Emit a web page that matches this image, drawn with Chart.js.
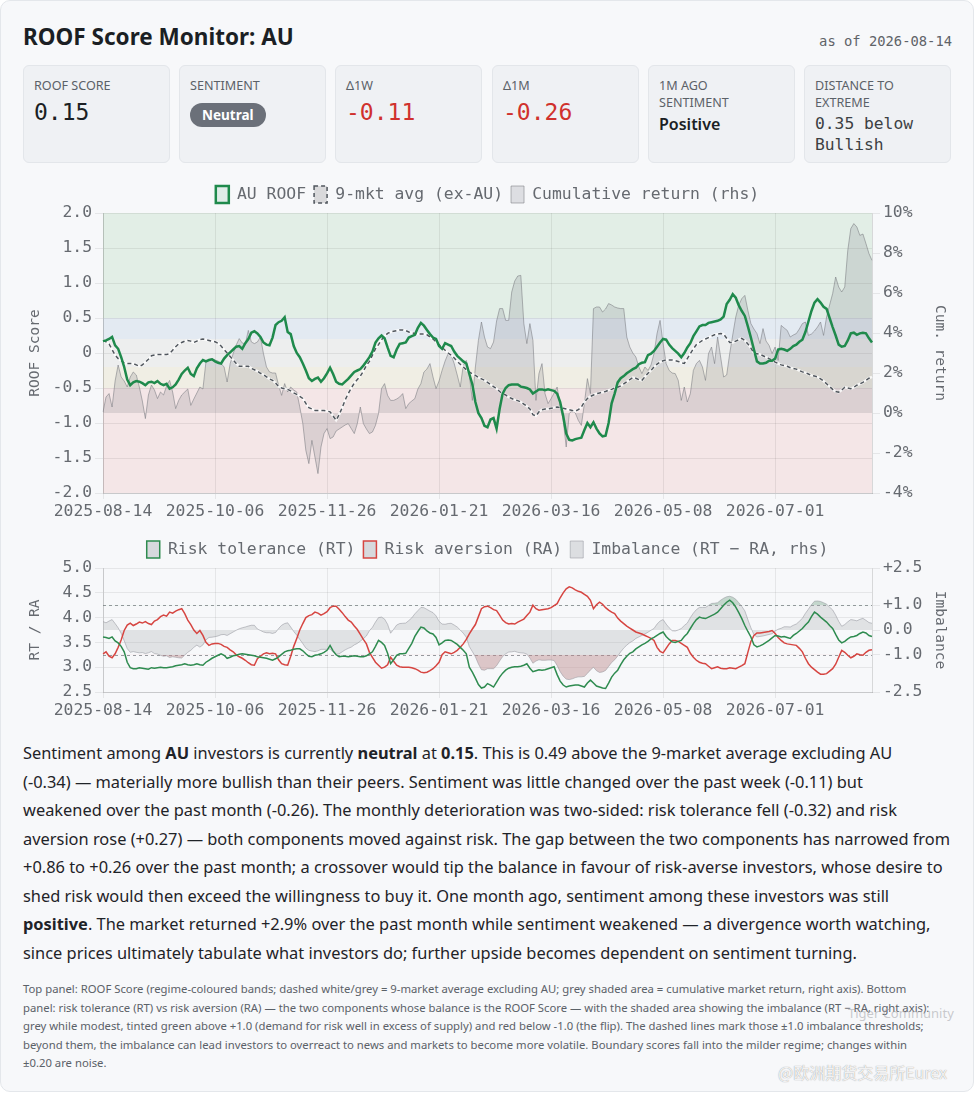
<!DOCTYPE html>
<html lang="en">
<head>
<meta charset="utf-8">
<title>ROOF Score Monitor: AU</title>
<script src="https://cdn.jsdelivr.net/npm/chart.js"></script>
<style>
  html,body{margin:0;padding:0;background:#ffffff;}
  body{position:relative;width:975px;height:1093px;overflow:hidden;font-family:"Noto Sans",Roboto,sans-serif;color:#1f2328;}
  #frame{position:absolute;left:0;top:0;width:972px;height:1090px;border:1px solid #e4e7eb;border-radius:10px;background:#f7f8fa;}
  .abs{position:absolute;}
  #title{left:23px;top:22px;font-weight:700;font-size:22.5px;line-height:30px;color:#1b1f24;}
  #asof{right:23px;top:33px;font-family:"DejaVu Sans Mono",monospace;font-size:13.8px;color:#5f6368;}
  .card{position:absolute;top:65px;width:147px;height:98px;box-sizing:border-box;background:#eff1f4;border:1px solid #e3e6ea;border-radius:6px;padding:11px 10px 0 10px;}
  .lbl{font-size:12.6px;line-height:17px;color:#5b6168;text-transform:uppercase;}
  .num{font-family:"DejaVu Sans Mono",monospace;font-size:23px;line-height:27px;margin-top:5px;color:#1b1f24;}
  .neg{color:#d0312d;}
  .pill{display:inline-block;margin-top:9px;height:24px;line-height:24px;padding:0 12px;border-radius:12px;background:#6b7079;color:#fff;font-weight:700;font-size:13.5px;}
  .word{font-size:16px;font-weight:600;line-height:20px;margin-top:3px;color:#1b1f24;}
  .mono2{font-family:"DejaVu Sans Mono",monospace;font-size:16.3px;line-height:21px;margin-top:2px;color:#3c4043;}
  .wrap{position:absolute;left:23px;width:929px;}
  #para{left:23px;top:739px;font-size:16.4px;line-height:28.5px;color:#1f2328;white-space:nowrap;}
  #foot{left:23px;top:980px;font-size:11.3px;line-height:18.5px;color:#5b6168;white-space:nowrap;}
  #wm1{left:848px;top:1004px;font-size:13px;color:rgba(160,160,165,0.55);}
  #wm2{left:778px;top:1060px;font-family:"Noto Sans CJK SC",sans-serif;font-size:16px;color:rgba(255,255,255,0.9);text-shadow:0 0 1px rgba(120,120,120,0.9);}
</style>
</head>
<body>
<div id="frame"></div>
<div id="title" class="abs">ROOF Score Monitor: AU</div>
<div id="asof" class="abs">as of 2026-08-14</div>

<div class="card" style="left:23px"><div class="lbl">ROOF Score</div><div class="num">0.15</div></div>
<div class="card" style="left:179px"><div class="lbl">Sentiment</div><span class="pill">Neutral</span></div>
<div class="card" style="left:335px"><div class="lbl">Δ1W</div><div class="num neg">-0.11</div></div>
<div class="card" style="left:492px"><div class="lbl">Δ1M</div><div class="num neg">-0.26</div></div>
<div class="card" style="left:648px"><div class="lbl">1M ago<br>sentiment</div><div class="word">Positive</div></div>
<div class="card" style="left:804px"><div class="lbl">Distance to<br>extreme</div><div class="mono2">0.35 below<br>Bullish</div></div>

<div id="w1" class="wrap" style="top:178px;height:345px;"><canvas id="c1"></canvas></div>
<div id="w2" class="wrap" style="top:535px;height:190px;"><canvas id="c2"></canvas></div>

<div id="para" class="abs">Sentiment among <b>AU</b> investors is currently <b>neutral</b> at <b>0.15</b>. This is 0.49 above the 9-market average excluding AU<br>(-0.34) — materially more bullish than their peers. Sentiment was little changed over the past week (-0.11) but<br>weakened over the past month (-0.26). The monthly deterioration was two-sided: risk tolerance fell (-0.32) and risk<br>aversion rose (+0.27) — both components moved against risk. The gap between the two components has narrowed from<br>+0.86 to +0.26 over the past month; a crossover would tip the balance in favour of risk-averse investors, whose desire to<br>shed risk would then exceed the willingness to buy it. One month ago, sentiment among these investors was still<br><b>positive</b>. The market returned +2.9% over the past month while sentiment weakened — a divergence worth watching,<br>since prices ultimately tabulate what investors do; further upside becomes dependent on sentiment turning.</div>

<div id="foot" class="abs">Top panel: ROOF Score (regime-coloured bands; dashed white/grey = 9-market average excluding AU; grey shaded area = cumulative market return, right axis). Bottom<br>panel: risk tolerance (RT) vs risk aversion (RA) — the two components whose balance is the ROOF Score — with the shaded area showing the imbalance (RT − RA, right axis):<br>grey while modest, tinted green above +1.0 (demand for risk well in excess of supply) and red below -1.0 (the flip). The dashed lines mark those ±1.0 imbalance thresholds;<br>beyond them, the imbalance can lead investors to overreact to news and markets to become more volatile. Boundary scores fall into the milder regime; changes within<br>±0.20 are noise.</div>

<div id="wm1" class="abs">Tiger Community</div>
<div id="wm2" class="abs">@欧洲期货交易所Eurex</div>

<script>
// ---------------- data ----------------
const START_DATE = '2025-08-14';
const END_DATE = '2026-08-14';
const MARKET_HOLIDAYS = ['2025-12-25','2025-12-26','2026-01-01','2026-01-26','2026-04-03','2026-04-06','2026-06-08'];
const TICK_LABELS = ['2025-08-14','2025-10-06','2025-11-26','2026-01-21','2026-03-16','2026-05-08','2026-07-01'];

const ROOF = [
 0.17,0.18,0.20,0.23,0.11,0.06,-0.06,-0.20,-0.38,-0.46,
 -0.42,-0.40,-0.41,-0.43,-0.46,-0.42,-0.41,-0.43,-0.40,-0.44,
 -0.46,-0.44,-0.51,-0.49,-0.45,-0.38,-0.30,-0.25,-0.21,-0.30,
 -0.33,-0.22,-0.15,-0.10,-0.12,-0.10,-0.09,-0.12,-0.14,-0.15,
 -0.08,-0.03,0.01,0.05,0.09,0.10,0.06,0.14,0.20,0.29,
 0.31,0.28,0.23,0.15,0.12,0.11,0.22,0.40,0.44,0.46,
 0.51,0.30,0.27,0.10,0.00,-0.06,-0.15,-0.25,-0.36,-0.40,
 -0.37,-0.35,-0.41,-0.36,-0.29,-0.21,-0.30,-0.41,-0.44,-0.45,
 -0.41,-0.37,-0.32,-0.27,-0.25,-0.23,-0.18,-0.12,-0.06,0.02,
 0.15,0.21,0.25,0.21,0.08,-0.04,-0.06,0.05,0.13,0.14,
 0.15,0.22,0.24,0.26,0.36,0.43,0.39,0.33,0.27,0.22,
 0.20,0.10,0.06,0.14,0.12,0.10,0.02,-0.04,-0.08,-0.12,
 -0.15,-0.30,-0.45,-0.70,-0.86,-0.93,-1.04,-1.06,-0.95,-0.93,
 -1.08,-0.80,-0.58,-0.50,-0.46,-0.45,-0.45,-0.45,-0.48,-0.49,
 -0.50,-0.52,-0.58,-0.55,-0.52,-0.52,-0.53,-0.52,-0.53,-0.54,
 -0.58,-0.70,-0.90,-1.15,-1.24,-1.25,-1.23,-1.22,-1.21,-1.10,
 -1.00,-1.06,-0.99,-1.08,-1.15,-1.19,-1.18,-1.00,-0.72,-0.58,
 -0.42,-0.36,-0.33,-0.29,-0.26,-0.23,-0.21,-0.16,-0.14,-0.13,
 -0.03,-0.01,0.03,0.09,0.15,0.20,0.19,0.12,0.07,0.03,
 -0.01,-0.06,0.00,0.08,0.14,0.24,0.31,0.38,0.40,0.40,
 0.43,0.44,0.45,0.46,0.48,0.52,0.70,0.76,0.84,0.79,
 0.68,0.60,0.53,0.38,0.22,0.05,-0.12,-0.15,-0.15,-0.14,
 -0.11,-0.11,-0.08,0.05,0.06,0.05,0.03,0.06,0.10,0.12,
 0.16,0.19,0.30,0.45,0.60,0.72,0.77,0.72,0.66,0.63,
 0.50,0.37,0.25,0.12,0.09,0.10,0.18,0.28,0.29,0.26,
 0.28,0.29,0.28,0.21,0.15
];

const AVG9 = [
 0.18,0.16,0.13,0.05,-0.03,-0.08,-0.11,-0.14,-0.15,-0.15,
 -0.15,-0.17,-0.19,-0.17,-0.13,-0.09,-0.04,-0.03,-0.02,-0.02,
 -0.02,-0.02,-0.01,0.04,0.09,0.13,0.15,0.17,0.18,0.17,
 0.15,0.17,0.19,0.20,0.19,0.18,0.17,0.16,0.14,0.10,
 0.05,0.00,-0.05,-0.10,-0.15,-0.19,-0.19,-0.19,-0.19,-0.22,
 -0.24,-0.26,-0.29,-0.31,-0.34,-0.37,-0.39,-0.43,-0.48,-0.50,
 -0.51,-0.52,-0.54,-0.57,-0.59,-0.62,-0.65,-0.72,-0.78,-0.80,
 -0.82,-0.82,-0.82,-0.82,-0.83,-0.84,-0.90,-0.96,-0.88,-0.78,
 -0.67,-0.58,-0.50,-0.43,-0.38,-0.33,-0.26,-0.18,-0.12,-0.03,
 0.06,0.12,0.19,0.24,0.28,0.30,0.31,0.32,0.33,0.33,
 0.32,0.30,0.29,0.28,0.27,0.27,0.27,0.26,0.23,0.20,
 0.16,0.12,0.08,0.04,0.00,-0.03,-0.07,-0.12,-0.16,-0.20,
 -0.24,-0.27,-0.30,-0.32,-0.35,-0.37,-0.39,-0.42,-0.45,-0.48,
 -0.51,-0.55,-0.58,-0.60,-0.63,-0.65,-0.67,-0.68,-0.70,-0.73,
 -0.76,-0.80,-0.88,-0.90,-0.84,-0.81,-0.80,-0.80,-0.79,-0.78,
 -0.77,-0.78,-0.79,-0.80,-0.81,-0.82,-0.83,-0.81,-0.77,-0.70,
 -0.65,-0.62,-0.60,-0.58,-0.57,-0.56,-0.55,-0.53,-0.52,-0.50,
 -0.49,-0.47,-0.44,-0.41,-0.38,-0.35,-0.36,-0.38,-0.39,-0.34,
 -0.29,-0.25,-0.20,-0.16,-0.13,-0.11,-0.10,-0.10,-0.10,-0.11,
 -0.12,-0.14,-0.15,-0.08,-0.01,0.06,0.12,0.15,0.18,0.20,
 0.22,0.24,0.26,0.27,0.28,0.27,0.21,0.15,0.15,0.17,
 0.19,0.21,0.18,0.13,0.07,0.00,-0.01,-0.02,-0.04,-0.06,
 -0.08,-0.10,-0.13,-0.15,-0.17,-0.18,-0.19,-0.21,-0.22,-0.23,
 -0.25,-0.27,-0.28,-0.30,-0.32,-0.33,-0.34,-0.37,-0.40,-0.44,
 -0.48,-0.52,-0.55,-0.56,-0.53,-0.49,-0.50,-0.51,-0.49,-0.46,
 -0.44,-0.42,-0.39,-0.36,-0.34
];

const CUM_RETURN = [
 0.05,0.80,0.97,0.30,1.60,2.40,1.80,1.60,1.30,1.80,
 2.05,1.90,1.30,0.60,-0.28,0.90,1.40,1.15,0.72,1.05,
 0.90,1.35,1.63,1.05,0.22,0.63,0.90,1.05,1.20,0.38,
 0.70,1.00,1.30,1.20,2.55,2.65,2.72,2.65,2.60,2.47,
 2.30,1.55,2.47,2.97,3.40,3.72,3.50,3.45,4.13,3.55,
 3.47,3.55,3.80,2.97,2.30,2.05,2.00,2.00,1.38,0.88,
 1.47,1.05,1.30,1.15,1.05,0.30,-0.53,-1.87,-2.53,-1.37,
 -2.20,-3.03,-1.70,-1.03,-0.78,-1.28,-1.20,-0.90,-0.80,-0.70,
 -0.60,-0.53,-0.78,-1.03,-0.53,0.30,-0.53,-0.80,-1.03,-0.95,
 -0.62,-0.03,1.22,1.47,0.88,0.63,0.63,0.70,0.80,0.97,
 0.22,0.47,0.60,0.72,1.20,1.47,2.05,2.20,2.47,1.80,
 1.22,1.60,2.13,2.60,2.97,2.90,2.47,1.90,1.30,2.38,
 2.63,1.88,0.63,2.30,3.63,4.55,3.80,3.30,3.22,3.55,
 4.60,5.22,5.22,4.63,4.63,6.05,6.60,6.85,6.88,4.47,
 3.47,4.47,3.63,0.63,1.97,2.47,0.97,0.47,0.72,1.00,
 1.30,0.38,-0.37,-1.70,-0.03,0.13,0.00,-0.37,-0.62,0.47,
 1.72,0.97,5.22,5.30,5.30,5.05,5.20,5.47,5.40,5.30,
 5.25,5.22,5.22,3.80,3.30,3.00,2.80,2.30,1.97,2.30,
 2.13,2.40,2.97,3.97,4.63,3.47,2.47,2.13,2.00,1.97,
 1.63,0.63,1.30,0.55,0.97,2.13,2.47,2.63,2.30,1.63,
 2.97,3.30,2.47,3.80,2.80,1.80,1.90,2.97,3.90,4.80,
 5.40,5.72,5.88,5.13,4.47,4.20,3.97,3.47,4.22,3.60,
 3.38,2.97,3.30,2.63,4.38,4.25,4.13,3.80,3.90,3.97,
 4.20,4.47,4.55,3.88,3.95,4.10,4.30,4.55,3.88,4.80,
 5.40,5.97,6.80,6.30,6.05,6.30,8.13,9.22,9.47,9.30,
 8.88,8.95,8.47,7.97,7.63
];

const RISK_TOL = [
 3.61,3.60,3.58,3.61,3.53,3.49,3.42,3.31,3.10,2.99,
 2.97,2.97,2.99,2.98,2.97,2.96,2.99,2.98,2.99,3.00,
 2.99,2.99,3.00,3.01,3.03,3.04,3.05,3.07,3.05,3.04,
 3.05,3.07,3.05,3.04,3.10,3.14,3.18,3.21,3.24,3.27,
 3.24,3.18,3.20,3.23,3.24,3.26,3.27,3.26,3.25,3.24,
 3.23,3.21,3.20,3.19,3.18,3.16,3.14,3.17,3.21,3.26,
 3.31,3.33,3.34,3.36,3.37,3.37,3.33,3.27,3.22,3.21,
 3.24,3.25,3.27,3.30,3.34,3.44,3.33,3.25,3.21,3.22,
 3.22,3.21,3.22,3.23,3.22,3.21,3.21,3.23,3.27,3.31,
 3.42,3.54,3.50,3.44,3.28,3.07,3.15,3.24,3.27,3.27,
 3.28,3.38,3.48,3.62,3.72,3.81,3.79,3.73,3.69,3.67,
 3.60,3.45,3.49,3.54,3.55,3.54,3.50,3.46,3.40,3.34,
 3.27,3.00,2.90,2.78,2.65,2.58,2.60,2.67,2.64,2.60,
 2.70,2.80,2.88,2.94,2.98,3.00,3.01,3.01,3.02,3.04,
 3.07,2.98,2.91,2.93,2.95,2.94,2.95,2.97,2.99,3.01,
 2.85,2.72,2.64,2.60,2.62,2.63,2.64,2.64,2.62,2.60,
 2.68,2.74,2.68,2.62,2.60,2.58,2.57,2.68,2.80,2.88,
 2.94,3.05,3.15,3.22,3.28,3.31,3.37,3.41,3.45,3.48,
 3.52,3.57,3.60,3.64,3.68,3.71,3.62,3.56,3.51,3.50,
 3.52,3.54,3.62,3.68,3.78,3.88,3.96,4.01,3.99,3.98,
 4.01,4.04,4.07,4.11,4.18,4.25,4.31,4.35,4.30,4.21,
 4.10,3.98,3.84,3.72,3.61,3.45,3.41,3.43,3.46,3.50,
 3.54,3.59,3.64,3.63,3.61,3.62,3.60,3.58,3.64,3.68,
 3.73,3.78,3.85,3.91,4.02,4.11,4.07,4.01,3.96,3.91,
 3.84,3.78,3.66,3.55,3.49,3.52,3.57,3.61,3.62,3.64,
 3.68,3.71,3.69,3.64,3.62
];

const RISK_AVERSION = [
 3.27,3.31,3.22,3.19,3.27,3.40,3.55,3.74,3.85,3.89,
 3.84,3.87,3.91,3.89,3.92,3.88,3.86,3.93,3.96,4.02,
 4.05,4.03,4.11,4.09,4.13,4.16,4.18,4.08,3.95,3.86,
 3.75,3.68,3.74,3.64,3.50,3.44,3.47,3.48,3.48,3.46,
 3.42,3.40,3.35,3.31,3.25,3.21,3.18,3.14,3.09,3.05,
 3.04,3.17,3.22,3.27,3.29,3.27,3.28,3.27,3.15,3.07,
 3.05,3.04,3.22,3.42,3.58,3.75,3.88,4.00,4.04,4.06,
 4.11,4.09,4.05,4.08,4.12,4.20,4.23,4.23,4.17,4.10,
 4.02,3.95,3.91,3.83,3.76,3.66,3.56,3.47,3.30,3.20,
 3.10,3.04,2.98,3.00,3.05,3.20,3.12,3.04,3.01,3.00,
 3.00,3.00,2.99,2.97,2.94,2.90,2.89,2.90,2.93,2.97,
 3.03,3.10,3.25,3.31,3.29,3.27,3.30,3.34,3.40,3.47,
 3.56,3.67,3.77,3.86,4.02,4.18,4.22,4.23,4.20,4.16,
 4.14,4.05,3.95,3.90,3.87,3.88,3.87,3.91,3.94,3.97,
 4.04,4.11,4.25,4.18,4.15,4.16,4.17,4.18,4.20,4.24,
 4.28,4.40,4.50,4.58,4.62,4.60,4.56,4.53,4.51,4.47,
 4.43,4.35,4.18,4.26,4.31,4.27,4.20,4.15,4.11,4.08,
 3.99,3.93,3.88,3.83,3.79,3.75,3.71,3.69,3.67,3.64,
 3.61,3.58,3.54,3.40,3.32,3.29,3.38,3.47,3.54,3.54,
 3.52,3.48,3.44,3.40,3.28,3.20,3.14,3.10,3.08,3.07,
 3.02,2.97,2.99,3.01,2.98,2.97,2.97,2.99,2.98,2.97,
 3.00,3.03,3.07,3.30,3.52,3.64,3.69,3.69,3.70,3.71,
 3.72,3.74,3.68,3.60,3.54,3.49,3.47,3.46,3.45,3.44,
 3.38,3.31,3.18,3.07,3.00,2.95,2.90,2.86,2.86,2.87,
 2.92,2.97,3.06,3.20,3.34,3.30,3.24,3.19,3.22,3.27,
 3.25,3.24,3.30,3.34,3.35
];

const IMBALANCE_THRESHOLDS = [1, -1];

// ---------------- helpers ----------------
function tradingDays(start, end, holidays) {
  const out = [];
  let d = new Date(start + 'T00:00:00Z');
  const e = new Date(end + 'T00:00:00Z');
  while (d <= e) {
    const w = d.getUTCDay();
    const s = d.toISOString().slice(0, 10);
    if (w !== 0 && w !== 6 && !holidays.includes(s)) out.push(s);
    d = new Date(d.getTime() + 86400000);
  }
  return out;
}
const DATES = tradingDays(START_DATE, END_DATE, MARKET_HOLIDAYS);
const IMBALANCE = RISK_TOL.map((v, i) => +(v - RISK_AVERSION[i]).toFixed(2));

const MONO = '"DejaVu Sans Mono", "Liberation Mono", monospace';
const TXT = '#666a70';
const GRID = 'rgba(0,0,0,0.07)';
Chart.defaults.font.family = MONO;
Chart.defaults.color = TXT;
Chart.defaults.animation = false;

const bandsPlugin = {
  id: 'bands',
  beforeDraw(chart, args, opts) {
    if (!opts || !opts.bands) return;
    const {ctx, chartArea: {left, right}, scales: {y}} = chart;
    ctx.save();
    for (const b of opts.bands) {
      const y1 = y.getPixelForValue(b.to), y2 = y.getPixelForValue(b.from);
      ctx.fillStyle = b.color;
      ctx.fillRect(left, y1, right - left, y2 - y1);
    }
    ctx.restore();
  }
};

const thresholdPlugin = {
  id: 'thresholds',
  beforeDatasetsDraw(chart, args, opts) {
    if (!opts || !opts.values) return;
    const {ctx, chartArea: {left, right}} = chart;
    const sc = chart.scales[opts.axis];
    ctx.save();
    ctx.strokeStyle = opts.color;
    ctx.lineWidth = 1;
    ctx.setLineDash([3, 3]);
    for (const v of opts.values) {
      const py = Math.round(sc.getPixelForValue(v)) + 0.5;
      ctx.beginPath(); ctx.moveTo(left, py); ctx.lineTo(right, py); ctx.stroke();
    }
    ctx.restore();
  }
};

function xAxis() {
  return {
    type: 'category',
    labels: DATES,
    offset: false,
    grid: {color: GRID, tickLength: 6},
    border: {color: 'rgba(0,0,0,0.13)'},
    ticks: {
      autoSkip: false, maxRotation: 0, minRotation: 0, padding: 3,
      color: TXT, font: {family: MONO, size: 16.4},
      callback(value) { const l = DATES[value]; return TICK_LABELS.includes(l) ? l : null; }
    },
    afterFit(s) { s.height = 32; }
  };
}

function legendOpts() {
  return {
    display: true, position: 'top',
    labels: {
      color: TXT, font: {family: MONO, size: 16.4},
      boxWidth: 13, boxHeight: 17, padding: 8,
      filter: item => !item.text.startsWith('_')
    }
  };
}

// ---------------- top chart ----------------
const chart1 = new Chart(document.getElementById('c1'), {
  type: 'line',
  data: {
    labels: DATES,
    datasets: [
      {label: 'AU ROOF', data: ROOF, yAxisID: 'y', borderColor: '#1f8a4c', backgroundColor: 'rgba(31,138,76,0.10)',
       borderWidth: 2.5, pointRadius: 0, tension: 0, fill: false},
      {label: '9-mkt avg (ex-AU)', data: AVG9, yAxisID: 'y', borderColor: '#50565d', backgroundColor: 'rgba(160,160,160,0.35)',
       borderWidth: 1.5, borderDash: [4, 3], pointRadius: 0, fill: false},
      {label: '_avg_halo', data: AVG9, yAxisID: 'y', borderColor: 'rgba(255,255,255,0.8)',
       borderWidth: 2.5, pointRadius: 0, fill: false},
      {label: 'Cumulative return (rhs)', data: CUM_RETURN, yAxisID: 'y1', borderColor: 'rgba(120,122,128,0.55)',
       backgroundColor: 'rgba(120,122,128,0.20)', borderWidth: 1, pointRadius: 0, fill: 'origin'}
    ]
  },
  options: {
    responsive: true, maintainAspectRatio: false,
    layout: {padding: 0},
    plugins: {
      legend: legendOpts(),
      tooltip: {enabled: false},
      bands: {bands: [
        {from: 0.5, to: 2.0, color: '#e2eee6'},
        {from: 0.2, to: 0.5, color: '#e3eaf2'},
        {from: -0.2, to: 0.2, color: '#edeeee'},
        {from: -0.5, to: -0.2, color: '#f0eee4'},
        {from: -2.0, to: -0.5, color: '#f4e6e7'}
      ]}
    },
    scales: {
      x: xAxis(),
      y: {
        position: 'left', min: -2, max: 2,
        grid: {color: GRID, tickLength: 8}, border: {color: 'rgba(0,0,0,0.13)'},
        ticks: {stepSize: 0.5, color: TXT, font: {family: MONO, size: 16.4}, padding: 3,
                callback: v => (v === 0 ? '0' : v.toFixed(1))},
        title: {display: true, text: 'ROOF Score', color: TXT, font: {family: MONO, size: 14.5}},
        afterFit(s) { s.width = 80; }
      },
      y1: {
        position: 'right', min: -4, max: 10,
        grid: {drawOnChartArea: false, color: GRID, tickLength: 8}, border: {color: 'rgba(0,0,0,0.13)'},
        ticks: {stepSize: 2, color: TXT, font: {family: MONO, size: 16.4}, padding: 3, callback: v => v + '%'},
        title: {display: true, text: 'Cum. return', color: TXT, font: {family: MONO, size: 14.5}},
        afterFit(s) { s.width = 80; }
      }
    }
  },
  plugins: [bandsPlugin]
});

// ---------------- bottom chart ----------------
const chart2 = new Chart(document.getElementById('c2'), {
  type: 'line',
  data: {
    labels: DATES,
    datasets: [
      {label: 'Risk tolerance (RT)', data: RISK_TOL, yAxisID: 'y', borderColor: '#2e8b4f', backgroundColor: 'rgba(190,192,196,0.55)',
       borderWidth: 1.5, pointRadius: 0, fill: false},
      {label: 'Risk aversion (RA)', data: RISK_AVERSION, yAxisID: 'y', borderColor: '#d64541', backgroundColor: 'rgba(190,192,196,0.55)',
       borderWidth: 1.5, pointRadius: 0, fill: false},
      {label: 'Imbalance (RT − RA, rhs)', data: IMBALANCE, yAxisID: 'y1', borderColor: 'rgba(150,152,158,0.55)',
       backgroundColor: 'rgba(160,162,168,0.30)', borderWidth: 1, pointRadius: 0,
       fill: {target: {value: 0}, above: 'rgba(160,162,168,0.26)', below: 'rgba(160,162,168,0.26)'}},
      {label: '_imb_hi', data: IMBALANCE, yAxisID: 'y1', borderColor: 'rgba(0,0,0,0)', borderWidth: 0, pointRadius: 0,
       fill: {target: {value: 1}, above: 'rgba(70,175,100,0.22)', below: 'rgba(0,0,0,0)'}},
      {label: '_imb_lo', data: IMBALANCE, yAxisID: 'y1', borderColor: 'rgba(0,0,0,0)', borderWidth: 0, pointRadius: 0,
       fill: {target: {value: -1}, above: 'rgba(0,0,0,0)', below: 'rgba(225,90,90,0.24)'}}
    ]
  },
  options: {
    responsive: true, maintainAspectRatio: false,
    layout: {padding: 0},
    plugins: {
      legend: legendOpts(),
      tooltip: {enabled: false},
      thresholds: {axis: 'y1', values: IMBALANCE_THRESHOLDS, color: 'rgba(110,112,118,0.7)'}
    },
    scales: {
      x: xAxis(),
      y: {
        position: 'left', min: 2.5, max: 5.0,
        grid: {color: GRID, tickLength: 8}, border: {color: 'rgba(0,0,0,0.13)'},
        ticks: {stepSize: 0.5, color: TXT, font: {family: MONO, size: 16.4}, padding: 3, callback: v => v.toFixed(1)},
        title: {display: true, text: 'RT / RA', color: TXT, font: {family: MONO, size: 14.5}},
        afterFit(s) { s.width = 80; }
      },
      y1: {
        position: 'right', min: -2.5, max: 2.5,
        grid: {drawOnChartArea: false, color: GRID, tickLength: 8}, border: {color: 'rgba(0,0,0,0.13)'},
        afterBuildTicks(s) { s.ticks = [-2.5, -1, 0, 1, 2.5].map(v => ({value: v})); },
        ticks: {color: TXT, font: {family: MONO, size: 16.4}, padding: 3,
                callback: v => (v > 0 ? '+' : '') + Number(v).toFixed(1)},
        title: {display: true, text: 'Imbalance', color: TXT, font: {family: MONO, size: 14.5}},
        afterFit(s) { s.width = 80; }
      }
    }
  },
  plugins: [thresholdPlugin]
});

// place plot areas where the reference has them
function place(chart, wrapId, top, bottom) {
  const wrap = document.getElementById(wrapId);
  for (let k = 0; k < 3; k++) {
    const ca = chart.chartArea;
    const dh = (bottom - top) - (ca.bottom - ca.top);
    if (Math.abs(dh) < 0.5) break;
    wrap.style.height = (wrap.offsetHeight + dh) + 'px';
    chart.resize();
  }
  wrap.style.top = (top - chart.chartArea.top) + 'px';
}
place(chart1, 'w1', 213, 493);
place(chart2, 'w2', 568, 692);
</script>
</body>
</html>
